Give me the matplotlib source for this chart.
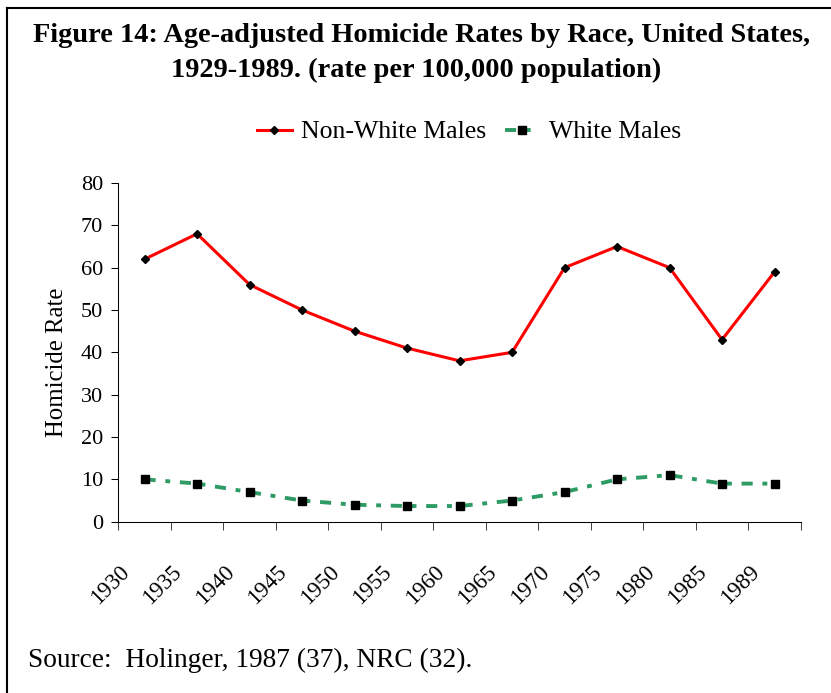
import matplotlib
matplotlib.use("Agg")
import matplotlib.pyplot as plt
from matplotlib.lines import Line2D
from matplotlib.ticker import FixedLocator, NullFormatter
import matplotlib.transforms as mtransforms

plt.rcParams['font.family'] = ['Liberation Serif', 'DejaVu Serif']
plt.rcParams['lines.scale_dashes'] = False

# Data
years = ['1930', '1935', '1940', '1945', '1950', '1955', '1960',
         '1965', '1970', '1975', '1980', '1985', '1989']
non_white_males = [62, 68, 56, 50, 45, 41, 38, 40, 60, 65, 60, 43, 59]
white_males = [10, 9, 7, 5, 4, 3.7, 3.7, 5, 7, 10, 11, 9, 9]
y_ticks = [0, 10, 20, 30, 40, 50, 60, 70, 80]

W, H = 831, 693
fig = plt.figure(figsize=(W / 100, H / 100), dpi=100)
fig.patch.set_facecolor('white')

# axes placed in pixel coordinates
left, right, top, bottom = 118.3, 800.8, 183.0, 521.7
ax = fig.add_axes([left / W, 1 - bottom / H, (right - left) / W, (bottom - top) / H])

x = list(range(len(years)))
red = '#FF0000'
green = '#2E9B64'
green_dash = (8, 7, 3.5, 7)

ax.plot(x, non_white_males, color=red, lw=2.2, marker='D', ms=4.5,
        mfc='black', mec='black', zorder=3, label='Non-White Males')
ax.plot(x, white_males, color=green, lw=2.8, marker='s', ms=5.5,
        mfc='black', mec='black', dashes=green_dash, zorder=3,
        label='White Males')

ax.set_xlim(-0.5, len(years) - 0.5)
ax.set_ylim(0, 80)
ax.set_yticks(y_ticks)
ax.set_yticklabels([str(v) for v in y_ticks], fontsize=16)
ax.tick_params(axis='y', length=4.75, width=0.75, pad=6.3, colors='black')

# category labels at centres, tick marks at category boundaries
ax.xaxis.set_major_locator(FixedLocator(x))
ax.set_xticklabels(years, fontsize=16.5, rotation=45, ha='right', va='top')
ax.tick_params(axis='x', which='major', length=0, pad=28.5)
ax.xaxis.set_minor_locator(FixedLocator([i - 0.5 for i in range(len(years) + 1)]))
ax.xaxis.set_minor_formatter(NullFormatter())
ax.tick_params(axis='x', which='minor', length=5.5, width=0.75, color='#444444')
shift = mtransforms.ScaledTranslation(-11 / 100, 0, fig.dpi_scale_trans)
for lab in ax.get_xticklabels():
    lab.set_transform(lab.get_transform() + shift)

for s in ['top', 'right']:
    ax.spines[s].set_visible(False)
for s in ['left', 'bottom']:
    ax.spines[s].set_linewidth(0.75)
    ax.spines[s].set_color('black')

fig.text(57 / W, 1 - 362 / H, 'Homicide Rate', rotation=90, fontsize=17.8,
         ha='center', va='center')

# title
fig.text(422 / W, 1 - 35 / H,
         'Figure 14: Age-adjusted Homicide Rates by Race, United States,',
         fontsize=20.4, fontweight='bold', ha='center', va='center')
fig.text(416 / W, 1 - 70 / H, '1929-1989. (rate per 100,000 population)',
         fontsize=20.4, fontweight='bold', ha='center', va='center')

# legend
handles = [
    Line2D([0], [0], color=red, lw=2.2, marker='D', ms=4.5, mfc='black', mec='black'),
    Line2D([0], [0], color=green, lw=2.8, marker='s', ms=5.5, mfc='black', mec='black',
           dashes=green_dash),
]
fig.legend(handles, ['Non-White Males', 'White Males'], loc='center',
           bbox_to_anchor=(469 / W, 1 - 132 / H), ncol=2, frameon=False,
           fontsize=18.5, handlelength=1.35, handletextpad=0.35, columnspacing=0.75)

# source note
fig.text(28 / W, 1 - 660 / H, 'Source:  Holinger, 1987 (37), NRC (32).',
         fontsize=19.7, ha='left', va='center')

# frame lines along the top and left edges
fig.add_artist(Line2D([7 / W, 1.0], [1 - 8 / H, 1 - 8 / H], color='black', lw=1.5,
                      transform=fig.transFigure))
fig.add_artist(Line2D([7 / W, 7 / W], [1 - 8 / H, 0.0], color='black', lw=1.5,
                      transform=fig.transFigure))

fig.savefig('out.png', dpi=100, facecolor='white')
